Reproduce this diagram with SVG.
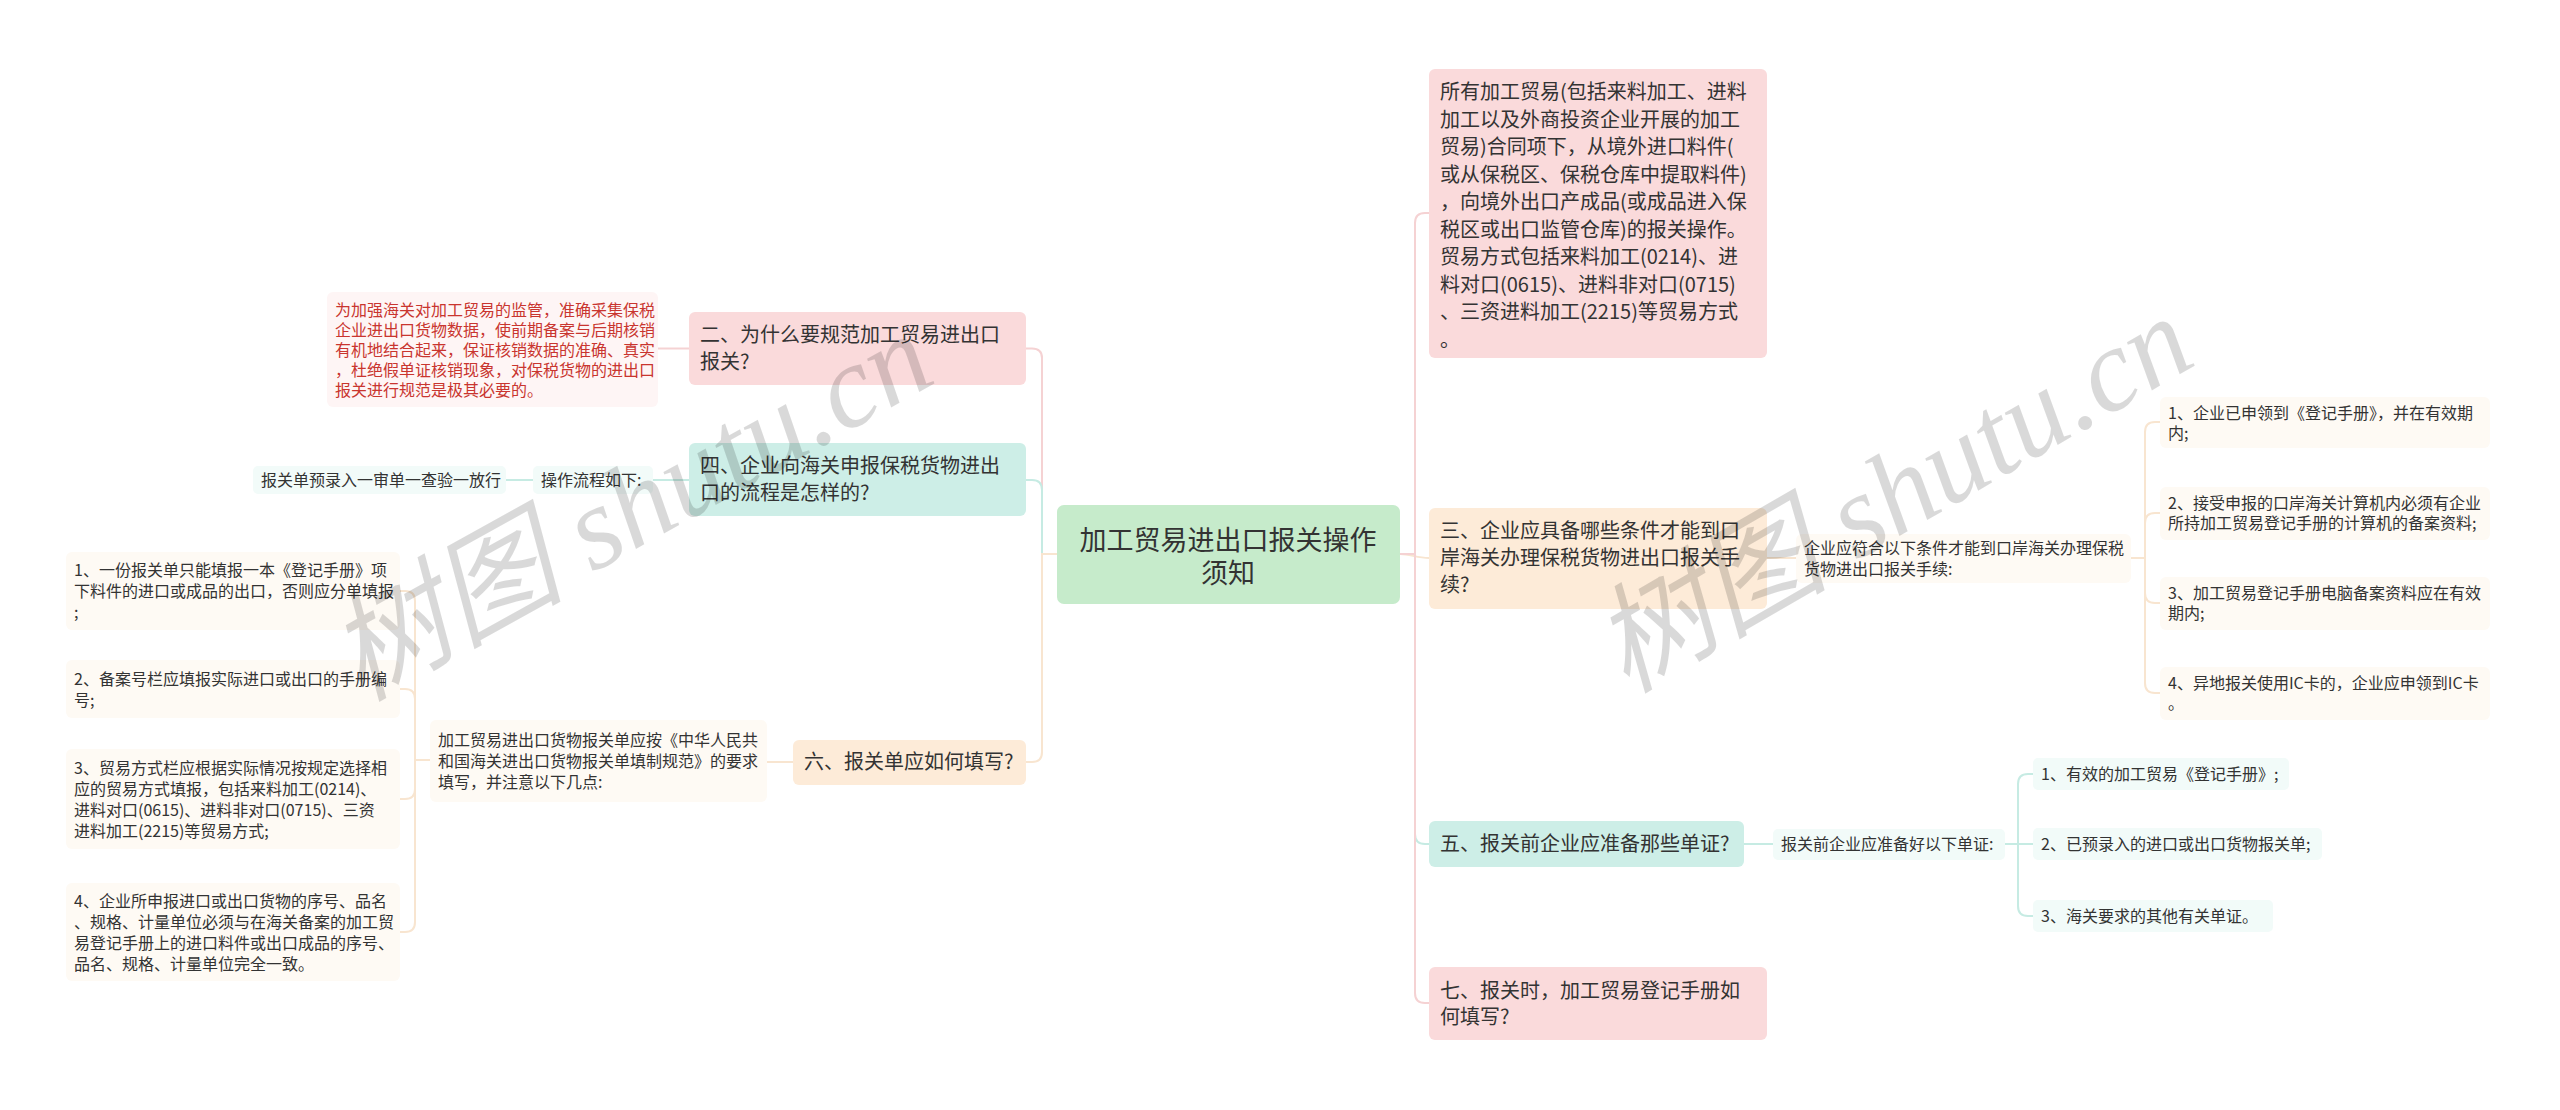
<svg xmlns="http://www.w3.org/2000/svg" width="2560" height="1110" viewBox="0 0 2560 1110">
<style>
text{font-family:"Noto Sans CJK SC","Microsoft YaHei",sans-serif;fill:#333}
.c{font-size:27px}
.b{font-size:20px}
.s{font-size:16px}
.red{fill:#c9352f}
.ln{fill:none;stroke-width:2}
.pk{stroke:#f5d2d3}
.tl{stroke:#c6ebe3}
.pc{stroke:#f8e5d0}
.wm{font-family:"Liberation Serif","Noto Sans CJK SC",serif;font-size:118px;fill:#000;fill-opacity:0.15;font-style:italic}
</style>
<rect width="2560" height="1110" fill="#fff"/>
<g id="connectors">
<path class="ln pk" d="M1057 554 H1042 V358 Q1042 348.5 1032 348.5 H1026"/>
<path class="ln tl" d="M1057 554 H1042 V490 Q1042 480 1032 480 H1026"/>
<path class="ln pc" d="M1057 554 H1042 V752 Q1042 762 1032 762 H1026"/>
<path class="ln tl" d="M1400 554 H1415 V834 Q1415 844 1425 844 H1429"/>
<path class="ln pc" d="M1400 554 C1410 554 1417 558 1429 558"/>
<path class="ln pk" d="M1400 554 H1415 V223 Q1415 213 1425 213 H1429"/>
<path class="ln pk" d="M1400 554 H1415 V993 Q1415 1003 1425 1003 H1429"/>
<path class="ln pk" d="M689 348.5 H658"/>
<path class="ln tl" d="M689 480 H653"/>
<path class="ln tl" d="M533 480 H506"/>
<path class="ln pc" d="M793 762 H767"/>
<path class="ln pc" d="M430 760 H415 V601 Q415 591 405 591 H400"/>
<path class="ln pc" d="M430 760 H415 V699 Q415 689 405 689 H400"/>
<path class="ln pc" d="M430 760 H415 V789 Q415 799 405 799 H400"/>
<path class="ln pc" d="M430 760 H415 V922 Q415 932 405 932 H400"/>
<path class="ln pc" d="M1767 558 H1796"/>
<path class="ln pc" d="M2131 558 H2145 V432 Q2145 422 2155 422 H2160"/>
<path class="ln pc" d="M2131 558 H2145 V523 Q2145 513 2155 513 H2160"/>
<path class="ln pc" d="M2131 558 H2145 V593 Q2145 603 2155 603 H2160"/>
<path class="ln pc" d="M2131 558 H2145 V683 Q2145 693 2155 693 H2160"/>
<path class="ln tl" d="M1744 844 H1773"/>
<path class="ln tl" d="M2005 844 H2018 V784 Q2018 774 2028 774 H2033"/>
<path class="ln tl" d="M2005 844 H2033"/>
<path class="ln tl" d="M2005 844 H2018 V906 Q2018 916 2028 916 H2033"/>
</g>
<g id="center">
<rect x="1057" y="505" width="343" height="99" rx="7" fill="#c6ebcb"/>
<text class="c" x="1228" y="549.5" text-anchor="middle">加工贸易进出口报关操作</text>
<text class="c" x="1228" y="582.5" text-anchor="middle">须知</text>
</g>
<g id="n2">
<rect x="689" y="312" width="337" height="73" rx="6" fill="#fadadb"/>
<text class="b" x="700" y="342">二、为什么要规范加工贸易进出口</text>
<text class="b" x="700" y="369">报关?</text>
</g>
<g id="n2a">
<rect x="327" y="292" width="331" height="115" rx="6" fill="#fef5f5"/>
<text class="s red" x="335" y="316">为加强海关对加工贸易的监管，准确采集保税</text>
<text class="s red" x="335" y="336">企业进出口货物数据，使前期备案与后期核销</text>
<text class="s red" x="335" y="356">有机地结合起来，保证核销数据的准确、真实</text>
<text class="s red" x="335" y="376">，杜绝假单证核销现象，对保税货物的进出口</text>
<text class="s red" x="335" y="396">报关进行规范是极其必要的。</text>
</g>
<g id="n4">
<rect x="689" y="443" width="337" height="73" rx="6" fill="#cdeee7"/>
<text class="b" x="700" y="473">四、企业向海关申报保税货物进出</text>
<text class="b" x="700" y="500">口的流程是怎样的?</text>
</g>
<g id="n4a">
<rect x="533" y="466" width="120" height="28" rx="5" fill="#f2fbf9"/>
<text class="s" x="541" y="485.5">操作流程如下:</text>
</g>
<g id="n4b">
<rect x="253" y="466" width="253" height="28" rx="5" fill="#f2fbf9"/>
<text class="s" x="261" y="485.5">报关单预录入一审单一查验一放行</text>
</g>
<g id="n6">
<rect x="793" y="740" width="233" height="45" rx="6" fill="#fdebd8"/>
<text class="b" x="804" y="769">六、报关单应如何填写?</text>
</g>
<g id="n6a">
<rect x="430" y="720" width="337" height="82" rx="6" fill="#fefaf4"/>
<text class="s" x="438" y="745.5">加工贸易进出口货物报关单应按《中华人民共</text>
<text class="s" x="438" y="766.5">和国海关进出口货物报关单填制规范》的要求</text>
<text class="s" x="438" y="787.5">填写，并注意以下几点:</text>
</g>
<g id="n6i1">
<rect x="66" y="552" width="334" height="78" rx="6" fill="#fefaf4"/>
<text class="s" x="74" y="575.5">1、一份报关单只能填报一本《登记手册》项</text>
<text class="s" x="74" y="596.5">下料件的进口或成品的出口，否则应分单填报</text>
<text class="s" x="74" y="617.5">;</text>
</g>
<g id="n6i2">
<rect x="66" y="660" width="334" height="58" rx="6" fill="#fefaf4"/>
<text class="s" x="74" y="684.5">2、备案号栏应填报实际进口或出口的手册编</text>
<text class="s" x="74" y="705.5">号;</text>
</g>
<g id="n6i3">
<rect x="66" y="749" width="334" height="100" rx="6" fill="#fefaf4"/>
<text class="s" x="74" y="773.5">3、贸易方式栏应根据实际情况按规定选择相</text>
<text class="s" x="74" y="794.5">应的贸易方式填报，包括来料加工(0214)、</text>
<text class="s" x="74" y="815.5">进料对口(0615)、进料非对口(0715)、三资</text>
<text class="s" x="74" y="836.5">进料加工(2215)等贸易方式;</text>
</g>
<g id="n6i4">
<rect x="66" y="883" width="334" height="98" rx="6" fill="#fefaf4"/>
<text class="s" x="74" y="906.5">4、企业所申报进口或出口货物的序号、品名</text>
<text class="s" x="74" y="927.5">、规格、计量单位必须与在海关备案的加工贸</text>
<text class="s" x="74" y="948.5">易登记手册上的进口料件或出口成品的序号、</text>
<text class="s" x="74" y="969.5">品名、规格、计量单位完全一致。</text>
</g>
<g id="n1">
<rect x="1429" y="69" width="338" height="289" rx="6" fill="#fadadb"/>
<text class="b" x="1440" y="99">所有加工贸易(包括来料加工、进料</text>
<text class="b" x="1440" y="126.5">加工以及外商投资企业开展的加工</text>
<text class="b" x="1440" y="154">贸易)合同项下，从境外进口料件(</text>
<text class="b" x="1440" y="181.5">或从保税区、保税仓库中提取料件)</text>
<text class="b" x="1440" y="209">，向境外出口产成品(或成品进入保</text>
<text class="b" x="1440" y="236.5">税区或出口监管仓库)的报关操作。</text>
<text class="b" x="1440" y="264">贸易方式包括来料加工(0214)、进</text>
<text class="b" x="1440" y="291.5">料对口(0615)、进料非对口(0715)</text>
<text class="b" x="1440" y="319">、三资进料加工(2215)等贸易方式</text>
<text class="b" x="1440" y="346.5">。</text>
</g>
<g id="n3">
<rect x="1429" y="508" width="338" height="101" rx="6" fill="#fdebd8"/>
<text class="b" x="1440" y="538">三、企业应具备哪些条件才能到口</text>
<text class="b" x="1440" y="565">岸海关办理保税货物进出口报关手</text>
<text class="b" x="1440" y="592">续?</text>
</g>
<g id="n3a">
<rect x="1796" y="534" width="335" height="49" rx="6" fill="#fefaf4"/>
<text class="s" x="1804" y="553.5">企业应符合以下条件才能到口岸海关办理保税</text>
<text class="s" x="1804" y="574.5">货物进出口报关手续:</text>
</g>
<g id="n3i1">
<rect x="2160" y="397" width="330" height="51" rx="6" fill="#fefaf4"/>
<text class="s" x="2168" y="418.5">1、企业已申领到《登记手册》，并在有效期</text>
<text class="s" x="2168" y="438.5">内;</text>
</g>
<g id="n3i2">
<rect x="2160" y="487" width="330" height="53" rx="6" fill="#fefaf4"/>
<text class="s" x="2168" y="508.5">2、接受申报的口岸海关计算机内必须有企业</text>
<text class="s" x="2168" y="528.5">所持加工贸易登记手册的计算机的备案资料;</text>
</g>
<g id="n3i3">
<rect x="2160" y="577" width="330" height="53" rx="6" fill="#fefaf4"/>
<text class="s" x="2168" y="598.5">3、加工贸易登记手册电脑备案资料应在有效</text>
<text class="s" x="2168" y="618.5">期内;</text>
</g>
<g id="n3i4">
<rect x="2160" y="667" width="330" height="53" rx="6" fill="#fefaf4"/>
<text class="s" x="2168" y="688.5">4、异地报关使用IC卡的，企业应申领到IC卡</text>
<text class="s" x="2168" y="708.5">。</text>
</g>
<g id="n5">
<rect x="1429" y="821" width="315" height="46" rx="6" fill="#cdeee7"/>
<text class="b" x="1440" y="851">五、报关前企业应准备那些单证?</text>
</g>
<g id="n5a">
<rect x="1773" y="829" width="232" height="31" rx="5" fill="#f2fbf9"/>
<text class="s" x="1781" y="849.5">报关前企业应准备好以下单证:</text>
</g>
<g id="n5i1">
<rect x="2033" y="758" width="256" height="32" rx="5" fill="#f2fbf9"/>
<text class="s" x="2041" y="779.5">1、有效的加工贸易《登记手册》;</text>
</g>
<g id="n5i2">
<rect x="2033" y="828" width="289" height="32" rx="5" fill="#f2fbf9"/>
<text class="s" x="2041" y="849.5">2、已预录入的进口或出口货物报关单;</text>
</g>
<g id="n5i3">
<rect x="2033" y="900" width="240" height="32" rx="5" fill="#f2fbf9"/>
<text class="s" x="2041" y="921.5">3、海关要求的其他有关单证。</text>
</g>
<g id="n7">
<rect x="1429" y="967" width="338" height="73" rx="6" fill="#fadadb"/>
<text class="b" x="1440" y="998">七、报关时，加工贸易登记手册如</text>
<text class="b" x="1440" y="1024">何填写?</text>
</g>
<g id="watermark">
<text class="wm" x="0" y="0" transform="translate(360 702) rotate(-29)">树图 shutu.cn</text>
<text class="wm" x="0" y="0" transform="translate(1626 694) rotate(-30)">树图 shutu.cn</text>
</g>
</svg>
